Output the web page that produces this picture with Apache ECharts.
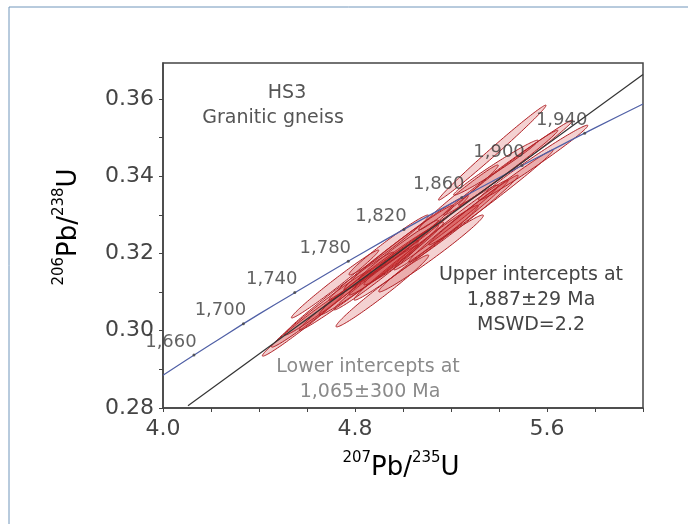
<!DOCTYPE html>
<html>
<head>
<meta charset="utf-8">
<script src="https://cdn.jsdelivr.net/npm/echarts@6/dist/echarts.min.js"></script>
<style>html,body{margin:0;padding:0;background:#fff;}#chart{width:688px;height:524px;}</style>
</head>
<body>
<div id="chart"></div>
<script>
// ---- data ----
// error ellipses: centre, 2-sigma half widths and correlation
const ellX   = [4.584, 4.659, 4.734, 4.717, 4.817, 4.899, 4.914, 4.951, 5.013, 5.055, 4.941, 5.117, 5.117, 5.200, 5.252, 5.366, 5.407, 5.469, 5.372, 5.542, 5.231, 5.387, 4.889, 4.972, 4.982];
const ellY   = [0.3017, 0.3057, 0.3096, 0.3121, 0.3118, 0.3157, 0.3103, 0.3202, 0.3228, 0.3202, 0.3222, 0.3248, 0.3200, 0.3274, 0.3290, 0.3345, 0.3409, 0.3435, 0.3461, 0.3435, 0.3345, 0.3422, 0.3138, 0.3187, 0.3209];
const ellSX  = [0.170, 0.207, 0.228, 0.182, 0.249, 0.249, 0.193, 0.259, 0.259, 0.259, 0.166, 0.280, 0.218, 0.238, 0.228, 0.259, 0.238, 0.238, 0.224, 0.228, 0.166, 0.176, 0.176, 0.197, 0.166];
const ellSY  = [0.00828, 0.00996, 0.01074, 0.00880, 0.01164, 0.01164, 0.00931, 0.01229, 0.01229, 0.01229, 0.00776, 0.01294, 0.00996, 0.01164, 0.01125, 0.01229, 0.01100, 0.01100, 0.01229, 0.00970, 0.00841, 0.00712, 0.00840, 0.00944, 0.00776];
const ellRho = [0.987, 0.989, 0.988, 0.989, 0.990, 0.988, 0.984, 0.991, 0.987, 0.989, 0.982, 0.989, 0.985, 0.990, 0.991, 0.993, 0.993, 0.993, 0.994, 0.989, 0.987, 0.985, 0.988, 0.985, 0.985];

// concordia curve
const concX = [4.0, 4.2, 4.4, 4.6, 4.8, 5.0, 5.2, 5.4, 5.6, 5.8, 6.0];
const concY = [0.2885, 0.2965, 0.3043, 0.3117, 0.3190, 0.3261, 0.3329, 0.3396, 0.3461, 0.3525, 0.3587];

// age marks on concordia (Ma)
const ageLabels = ['1,660', '1,700', '1,740', '1,780', '1,820', '1,860', '1,900', '1,940'];
const ageX = [4.129, 4.335, 4.549, 4.772, 5.004, 5.245, 5.496, 5.757];
const ageY = [0.2937, 0.3018, 0.3099, 0.3180, 0.3262, 0.3345, 0.3428, 0.3511];

// discordia line
const discX = [4.104, 6.0];
const discY = [0.2806, 0.3663];

// axes
const xTickLabels = ['4.0', '4.8', '5.6'];
const yTickLabels = ['0.28', '0.30', '0.32', '0.34', '0.36'];

// ---- chart ----
const chart = echarts.init(document.getElementById('chart'), null, {renderer: 'canvas'});
const FONT = 'DejaVu Sans';

const ellData = ellX.map((x, i) => [x, ellY[i], ellSX[i], ellSY[i], ellRho[i]]);

const richT = {
  m: {fontFamily: FONT, fontSize: 26, color: '#333', verticalAlign: 'bottom', lineHeight: 30},
  s: {fontFamily: FONT, fontSize: 15, color: '#333', verticalAlign: 'top', lineHeight: 30}
};

const option = {
  backgroundColor: '#fff',
  animation: false,
  grid: {left: 163, right: 45, top: 63, bottom: 116, show: true, borderColor: '#444', borderWidth: 1.5, backgroundColor: 'transparent'},
  xAxis: {
    type: 'value', min: 4.0, max: 6.0, interval: 0.2,
    axisLine: {show: true, lineStyle: {color: '#444', width: 1.5}},
    axisTick: {show: true, length: 4, lineStyle: {color: '#444'}},
    splitLine: {show: false},
    axisLabel: {
      fontFamily: FONT, fontSize: 22, color: '#444', margin: 10,
      formatter: v => { const s = v.toFixed(1); return xTickLabels.indexOf(s) >= 0 ? s : ''; }
    }
  },
  yAxis: {
    type: 'value', min: 0.28, max: 0.3693, interval: 0.01,
    axisLine: {show: true, lineStyle: {color: '#444', width: 1.5}},
    axisTick: {show: true, length: 4, lineStyle: {color: '#444'}},
    splitLine: {show: false},
    axisLabel: {
      fontFamily: FONT, fontSize: 22, color: '#444', margin: 9, showMaxLabel: false,
      formatter: v => { const s = v.toFixed(2); return yTickLabels.indexOf(s) >= 0 && Math.abs(v - parseFloat(s)) < 1e-6 ? s : ''; }
    }
  },
  series: [
    {
      type: 'custom',
      data: ellData,
      z: 2,
      renderItem: function (params, api) {
        const cx = api.value(0), cy = api.value(1), sx = api.value(2), sy = api.value(3), r = api.value(4);
        const k = Math.sqrt(1 - r * r);
        const pts = [];
        for (let i = 0; i < 120; i++) {
          const t = i / 120 * 2 * Math.PI;
          pts.push(api.coord([cx + sx * Math.cos(t), cy + sy * (r * Math.cos(t) + k * Math.sin(t))]));
        }
        return {type: 'polygon', shape: {points: pts}, style: {fill: 'rgba(205,45,45,0.22)', stroke: '#b02025', lineWidth: 1}};
      }
    },
    {
      type: 'line', z: 3, symbol: 'none', smooth: true,
      data: concX.map((x, i) => [x, concY[i]]),
      lineStyle: {color: '#5060a6', width: 1.2}
    },
    {
      type: 'line', z: 3, symbol: 'none',
      data: discX.map((x, i) => [x, discY[i]]),
      lineStyle: {color: '#333', width: 1.2}
    },
    {
      type: 'scatter', z: 4, symbol: 'circle', symbolSize: 3,
      itemStyle: {color: '#444'},
      data: ageX.map((x, i) => ({value: [x, ageY[i]], name: ageLabels[i]})),
      label: {show: true, position: 'inside', offset: [-23, -13], formatter: p => p.name,
              fontFamily: FONT, fontSize: 18, color: '#3a3a3a'}
    }
  ],
  graphic: [
    {type: 'line', shape: {x1: 9, y1: 7, x2: 688, y2: 7}, style: {stroke: '#7096bb', lineWidth: 1}},
    {type: 'line', shape: {x1: 9, y1: 7, x2: 9, y2: 524}, style: {stroke: '#7096bb', lineWidth: 1}},
    {type: 'text', x: 287, y: 93, style: {text: 'HS3', fontFamily: FONT, fontSize: 19, fill: '#555', align: 'center', verticalAlign: 'middle'}},
    {type: 'text', x: 273, y: 118, style: {text: 'Granitic gneiss', fontFamily: FONT, fontSize: 19, fill: '#555', align: 'center', verticalAlign: 'middle'}},
    {type: 'text', x: 531, y: 275, style: {text: 'Upper intercepts at', fontFamily: FONT, fontSize: 19, fill: '#444', align: 'center', verticalAlign: 'middle'}},
    {type: 'text', x: 531, y: 300, style: {text: '1,887±29 Ma', fontFamily: FONT, fontSize: 19, fill: '#444', align: 'center', verticalAlign: 'middle'}},
    {type: 'text', x: 531, y: 325, style: {text: 'MSWD=2.2', fontFamily: FONT, fontSize: 19, fill: '#444', align: 'center', verticalAlign: 'middle'}},
    {type: 'text', x: 368, y: 367, style: {text: 'Lower intercepts at', fontFamily: FONT, fontSize: 19, fill: '#8a8a8a', align: 'center', verticalAlign: 'middle'}},
    {type: 'text', x: 370, y: 392, style: {text: '1,065±300 Ma', fontFamily: FONT, fontSize: 19, fill: '#8a8a8a', align: 'center', verticalAlign: 'middle'}},
    {type: 'text', x: 401, y: 466, style: {text: '{s|207}{m|Pb/}{s|235}{m|U}', rich: richT, align: 'center', verticalAlign: 'middle'}},
    {type: 'text', x: 67, y: 227, rotation: Math.PI / 2, style: {text: '{s|206}{m|Pb/}{s|238}{m|U}', rich: richT, align: 'center', verticalAlign: 'middle'}}
  ]
};
chart.setOption(option);
</script>
</body>
</html>
